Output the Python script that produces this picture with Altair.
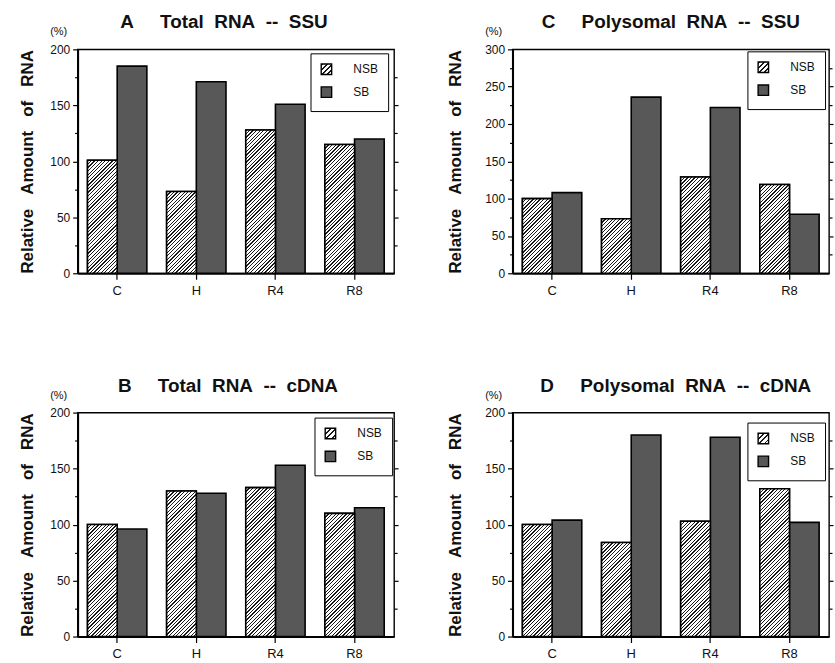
import altair as alt
import pandas as pd

# ---------------- data ----------------
categories = ["C", "H", "R4", "R8"]
groups = ["NSB", "SB"]

a_nsb = [101, 73, 128, 115]
a_sb = [185, 171, 151, 120]
b_nsb = [100, 130, 133, 110]
b_sb = [96, 128, 153, 115]
c_nsb = [100, 73, 129, 119]
c_sb = [108, 236, 222, 79]
d_nsb = [100, 84, 103, 132]
d_sb = [104, 180, 178, 102]

FONT = "Liberation Sans"
NB = "\u00a0"
W, H = 318, 225
PAD_I, PAD_O = 0.25, 0.125
STEP = W / (len(categories) - PAD_I + 2 * PAD_O)
BAR_W = STEP * (1 - PAD_I) / 2

SB_COLOR = "#585858"
DARK = "#1a1a1a"
LIGHT = "#ffffff"


def stripe_stops(n, frac=0.36):
    parts = []
    for i in range(n):
        a = i / n
        b = (i + frac) / n
        c = (i + 1) / n
        parts.append("{offset:%.5f,color:'%s'}" % (a, DARK))
        parts.append("{offset:%.5f,color:'%s'}" % (b, DARK))
        parts.append("{offset:%.5f,color:'%s'}" % (b, LIGHT))
        parts.append("{offset:%.5f,color:'%s'}" % (c, LIGHT))
    return "[" + ",".join(parts) + "]"


PERIOD = 3.6
N_STRIPES = 72
STOPS = stripe_stops(N_STRIPES)
LEGEND_GRAD = "{gradient:'linear',x1:0,y1:0,x2:1,y2:1,stops:%s}" % stripe_stops(4)


def panel(letter, name, nsb, sb, ymax, title_pad, legend_xy, title_dx):
    df = pd.DataFrame({
        "cat": categories * 2,
        "group": [groups[0]] * len(categories) + [groups[1]] * len(categories),
        "v": nsb + sb,
    })
    ticks = list(range(0, ymax + 1, 25))
    xenc = alt.X("cat:N", sort=categories, title=None,
                 scale=alt.Scale(paddingInner=PAD_I, paddingOuter=PAD_O),
                 axis=alt.Axis(labelAngle=0, labelFont=FONT, labelFontSize=13,
                               labelColor="#111", labelPadding=5, tickSize=6,
                               tickColor="black", tickWidth=1.2, domainColor="black",
                               domainWidth=2))
    xoff = alt.XOffset("group:N", sort=groups, scale=alt.Scale(paddingInner=0, paddingOuter=0))
    yscale = alt.Scale(domain=[0, ymax], nice=False, zero=True)
    base = alt.Chart(df).mark_bar(stroke="black", strokeWidth=1.6).encode(
        x=xenc,
        xOffset=xoff,
        y=alt.Y("v:Q", scale=yscale,
                title=("Relative" + NB * 3 + "Amount" + NB * 3 + "of" + NB * 3 + "RNA"),
                axis=alt.Axis(values=ticks, grid=False,
                              labelExpr="datum.value % 50 ? '' : datum.label",
                              tickSize={"condition": {"test": "datum.value % 50", "value": 3}, "value": 5},
                              labelFont=FONT, labelFontSize=12, labelColor="#111",
                              labelPadding=3, tickColor="black", tickWidth=1.2,
                              domainColor="black", domainWidth=2,
                              titleFont=FONT, titleFontSize=17, titleFontWeight="bold",
                              titleColor="#111", titlePadding=title_pad)),
        fill=alt.Fill("group:N", sort=groups, title=None,
                      scale=alt.Scale(domain=groups, range=[{"expr": LEGEND_GRAD}, SB_COLOR]),
                      legend=alt.Legend(orient="none", legendX=legend_xy[0], legendY=legend_xy[1],
                                        strokeColor="black", padding=10, fillColor="white",
                                        symbolType="square", symbolSize=110,
                                        symbolStrokeColor="black", symbolStrokeWidth=1.4,
                                        labelFont=FONT, labelFontSize=12, labelColor="#111",
                                        labelOffset=21, rowPadding=5, labelLimit=60)),
    )
    hatch_expr = (
        "{gradient:'linear',x1:0,y1:0,"
        "x2:(%f*%f)/(%f*%f+pow(datum.v/%f*%f,2)),"
        "y2:(%f*(datum.v/%f*%f))/(%f*%f+pow(datum.v/%f*%f,2)),"
        "stops:%s}"
    ) % (N_STRIPES * PERIOD, BAR_W, BAR_W, BAR_W, ymax, H,
         N_STRIPES * PERIOD, ymax, H, BAR_W, BAR_W, ymax, H, STOPS)
    hatch = alt.Chart(df).transform_filter(
        alt.datum.group == groups[0]
    ).transform_calculate(
        grad=hatch_expr
    ).mark_bar(stroke="black", strokeWidth=1.6).encode(
        x=xenc,
        xOffset=xoff,
        y=alt.Y("v:Q", scale=yscale,
                axis=alt.Axis(orient="right", values=[t for t in ticks if 0 < t < ymax],
                              labels=False, title=None, grid=False, domain=False,
                              tickSize={"condition": {"test": "datum.value % 50", "value": 3}, "value": 4},
                              tickColor="black", tickWidth=1.2)),
        fill=alt.Fill("grad:N", scale=None),
    )
    pct = alt.Chart(pd.DataFrame({"t": ["(%)"]})).mark_text(
        font=FONT, fontSize=11, color="#111", align="center", baseline="middle"
    ).encode(text="t:N", x=alt.value(-19), y=alt.value(-17))
    title_text = letter + NB * 5 + name
    return alt.layer(base, hatch, pct).resolve_scale(y="independent").properties(
        width=W, height=H,
        title=alt.TitleParams(title_text, font=FONT, fontSize=19, fontWeight="bold",
                              color="#111", anchor="middle", offset=-6, dx=title_dx),
    )


SEP = NB * 2
pA = panel("A", "Total" + SEP + "RNA" + SEP + "--" + SEP + "SSU", a_nsb, a_sb, 200, 13, (234, 4), -12)
pC = panel("C", "Polysomal" + SEP + "RNA" + SEP + "--" + SEP + "SSU", c_nsb, c_sb, 300, 20, (236, 2), 0)
pB = panel("B", "Total" + SEP + "RNA" + SEP + "--" + SEP + "cDNA", b_nsb, b_sb, 200, 13, (238, 5), -8)
pD = panel("D", "Polysomal" + SEP + "RNA" + SEP + "--" + SEP + "cDNA", d_nsb, d_sb, 200, 20, (236, 10), 5)

row1 = alt.hconcat(pA, pC, spacing=46).resolve_scale(fill="independent")
row2 = alt.hconcat(pB, pD, spacing=46).resolve_scale(fill="independent")
chart = alt.vconcat(row1, row2, spacing=78).resolve_scale(fill="independent").properties(
    padding={"left": 18, "top": 11, "right": 0, "bottom": 0},
    background="white",
).configure_view(stroke="black", strokeWidth=1.4)

chart.save("out.html", embed_options={"renderer": "svg", "actions": False})
